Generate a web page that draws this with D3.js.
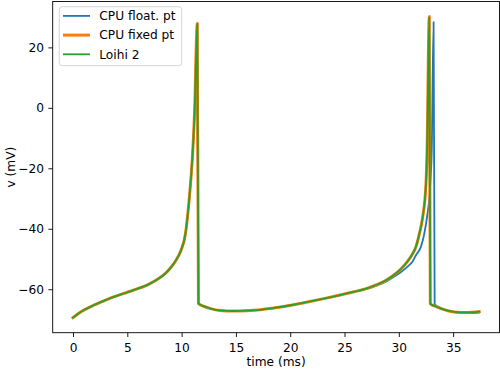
<!DOCTYPE html>
<html>
<head>
<meta charset="utf-8">
<script src="https://cdn.jsdelivr.net/npm/d3@7"></script>
<style>
  body { margin: 0; background: #fff; }
  svg { display: block; font-family: "DejaVu Sans", sans-serif; }
</style>
</head>
<body>
<svg id="canvas"></svg>
<script>
// membrane voltage traces, [time (ms), v (mV)]
let cpuFloat = [
    [0, -69.4], [0.5, -68.0], [1, -66.9], [1.9, -65.3], [3, -63.6], [3.75, -62.5],
    [5, -61.0], [5.9, -59.9], [7, -58.3], [7.75, -56.8], [8.5, -54.8], [8.97, -53.0],
    [9.5, -50.3], [9.9, -47.5], [10.36, -41.5], [10.6, -34.0], [10.8, -26.0],
    [11.0, -16.0], [11.2, -1.0], [11.44, 27.9], [11.55, -64.7], [12, -65.6],
    [12.67, -66.4], [13.5, -67.0], [14.8, -67.2], [16, -67.1], [17, -66.9],
    [18.5, -66.2], [20.05, -65.3], [21.5, -64.3], [23.1, -63.1], [24.5, -62.0],
    [25.8, -60.9], [27.0, -59.9], [27.9, -58.9], [28.7, -57.7], [29.58, -55.8],
    [30.2, -54.3], [30.8, -52.5], [31.27, -50.8], [31.6, -48.6], [32.04, -45.9],
    [32.35, -41.5], [32.6, -36.1], [32.9, -25.1], [33.03, -14.2], [33.2, 28.4],
    [33.3, -65.0], [33.7, -65.9], [34.2, -66.7], [35.0, -67.5], [35.7, -67.9],
    [36.5, -67.9], [37.4, -67.7]
]

let cpuFixed = [
    [0, -69.4], [0.5, -68.0], [1, -66.9], [1.9, -65.3], [3, -63.6], [3.75, -62.5],
    [5, -61.0], [5.9, -59.9], [7, -58.3], [7.75, -56.8], [8.5, -54.8], [8.97, -53.0],
    [9.5, -50.3], [9.9, -47.5], [10.36, -41.5], [10.6, -34.0], [10.8, -26.0],
    [11.0, -16.0], [11.2, -1.0], [11.44, 27.9], [11.55, -64.7], [12, -65.6],
    [12.67, -66.4], [13.5, -67.0], [14.8, -67.2], [16, -67.1], [17, -66.9],
    [18.5, -66.2], [20.05, -65.3], [21.5, -64.3], [23.1, -63.1], [24.5, -62.0],
    [25.8, -60.9], [27.0, -59.8], [27.9, -58.6], [28.7, -57.3], [29.58, -55.2],
    [30.2, -53.3], [30.8, -50.8], [31.2, -48.7], [31.58, -45.9], [31.9, -41.5],
    [32.2, -36.1], [32.5, -25.1], [32.6, -14.2], [32.8, 30.2], [32.9, -64.8],
    [33.4, -65.7], [33.9, -66.4], [34.5, -67.1], [35.1, -67.5], [36.35, -67.7],
    [37.4, -67.4]
]

let loihi2 = [
    [0, -69.4], [0.5, -68.0], [1, -66.9], [1.9, -65.3], [3, -63.6], [3.75, -62.5],
    [5, -61.0], [5.9, -59.9], [7, -58.3], [7.75, -56.8], [8.5, -54.8], [8.97, -53.0],
    [9.5, -50.3], [9.9, -47.5], [10.36, -41.5], [10.6, -34.0], [10.8, -26.0],
    [11.0, -16.0], [11.2, -1.0], [11.44, 27.9], [11.55, -64.7], [12, -65.6],
    [12.67, -66.4], [13.5, -67.0], [14.8, -67.2], [16, -67.1], [17, -66.9],
    [18.5, -66.2], [20.05, -65.3], [21.5, -64.3], [23.1, -63.1], [24.5, -62.0],
    [25.8, -60.9], [27.0, -59.8], [27.9, -58.6], [28.7, -57.3], [29.58, -55.2],
    [30.2, -53.3], [30.8, -50.8], [31.2, -48.7], [31.58, -45.9], [31.9, -41.5],
    [32.2, -36.1], [32.5, -25.1], [32.6, -14.2], [32.8, 30.0], [32.9, -64.8],
    [33.4, -65.7], [33.9, -66.4], [34.5, -67.1], [35.1, -67.5], [36.35, -67.7],
    [37.4, -67.4]
]

let seriesNames = ["CPU float. pt", "CPU fixed pt", "Loihi 2"]
let seriesColors = ["#1f77b4", "#ff7f0e", "#2ca02c"]
let seriesWidths = [1.8, 3.0, 1.8]
let xTicks = [0, 5, 10, 15, 20, 25, 30, 35]
let yTicks = [-60, -40, -20, 0, 20]

const width = 500, height = 371
const margin = {left: 52.7, top: 1.5, right: 0.5, bottom: 38.3}
const fs = 12.2
const tick = 4.3

let svg = d3.select("#canvas").attr("width", width).attr("height", height)

let allSeries = [cpuFloat, cpuFixed, loihi2]
let allPts = allSeries.flat()

// matplotlib style 5% padding
let xExt = d3.extent(allPts, d => d[0])
let yExt = d3.extent(allPts, d => d[1])
let xPad = (xExt[1] - xExt[0]) * 0.05
let yPad = (yExt[1] - yExt[0]) * 0.05

let x = d3.scaleLinear()
    .domain([xExt[0] - xPad, xExt[1] + xPad])
    .range([margin.left, width - margin.right])
let y = d3.scaleLinear()
    .domain([yExt[0] - yPad, yExt[1] + yPad])
    .range([height - margin.bottom, margin.top])

let line = d3.line()
    .x(d => x(d[0]))
    .y(d => y(d[1]))
    .curve(d3.curveMonotoneX)

let plot = svg.append("g")
allSeries.forEach((s, i) => {
    plot.append("path")
        .datum(s)
        .attr("d", line)
        .attr("fill", "none")
        .attr("stroke", seriesColors[i])
        .attr("stroke-width", seriesWidths[i])
        .attr("stroke-linejoin", "round")
        .attr("stroke-linecap", "square")
})

let fmt = d => d < 0 ? "\u2212" + Math.abs(d) : String(d)

let xAxis = svg.append("g")
    .attr("transform", `translate(0,${height - margin.bottom})`)
    .call(d3.axisBottom(x).tickValues(xTicks).tickFormat(fmt)
        .tickSizeInner(tick).tickSizeOuter(0).tickPadding(tick))
xAxis.select(".domain").remove()
xAxis.selectAll("text").attr("font-size", fs).attr("font-family", "DejaVu Sans")
    .attr("fill", "#000").attr("dy", "0.84em")
xAxis.selectAll("line").attr("stroke-width", 0.9)

let yAxis = svg.append("g")
    .attr("transform", `translate(${margin.left},0)`)
    .call(d3.axisLeft(y).tickValues(yTicks).tickFormat(fmt)
        .tickSizeInner(tick).tickSizeOuter(0).tickPadding(tick))
yAxis.select(".domain").remove()
yAxis.selectAll("text").attr("font-size", fs).attr("font-family", "DejaVu Sans")
    .attr("fill", "#000")
yAxis.selectAll("line").attr("stroke-width", 0.9)

// spines
svg.append("rect")
    .attr("x", x.range()[0]).attr("y", y.range()[1])
    .attr("width", x.range()[1] - x.range()[0])
    .attr("height", y.range()[0] - y.range()[1])
    .attr("fill", "none").attr("stroke", "#000").attr("stroke-width", 0.9)

svg.append("text")
    .attr("x", (x.range()[0] + x.range()[1]) / 2)
    .attr("y", 366)
    .attr("text-anchor", "middle")
    .attr("font-size", fs)
    .text("time (ms)")

svg.append("text")
    .attr("transform", `translate(15,${(y.range()[0] + y.range()[1]) / 2}) rotate(-90)`)
    .attr("text-anchor", "middle")
    .attr("font-size", fs)
    .text("v (mV)")

// legend
let legend = svg.append("g")
legend.append("rect")
    .attr("x", 59.3).attr("y", 6.7).attr("width", 122.4).attr("height", 59)
    .attr("rx", 3)
    .attr("fill", "#fff").attr("fill-opacity", 0.8)
    .attr("stroke", "#d0d0d0").attr("stroke-width", 0.9)

seriesNames.forEach((name, i) => {
    let ry = 15.9 + i * 19.2
    legend.append("line")
        .attr("x1", 63).attr("x2", 90).attr("y1", ry).attr("y2", ry)
        .attr("stroke", seriesColors[i]).attr("stroke-width", seriesWidths[i])
    legend.append("text")
        .attr("x", 99.3).attr("y", ry).attr("dy", "0.36em")
        .attr("font-size", fs)
        .text(name)
})
</script>
</body>
</html>
